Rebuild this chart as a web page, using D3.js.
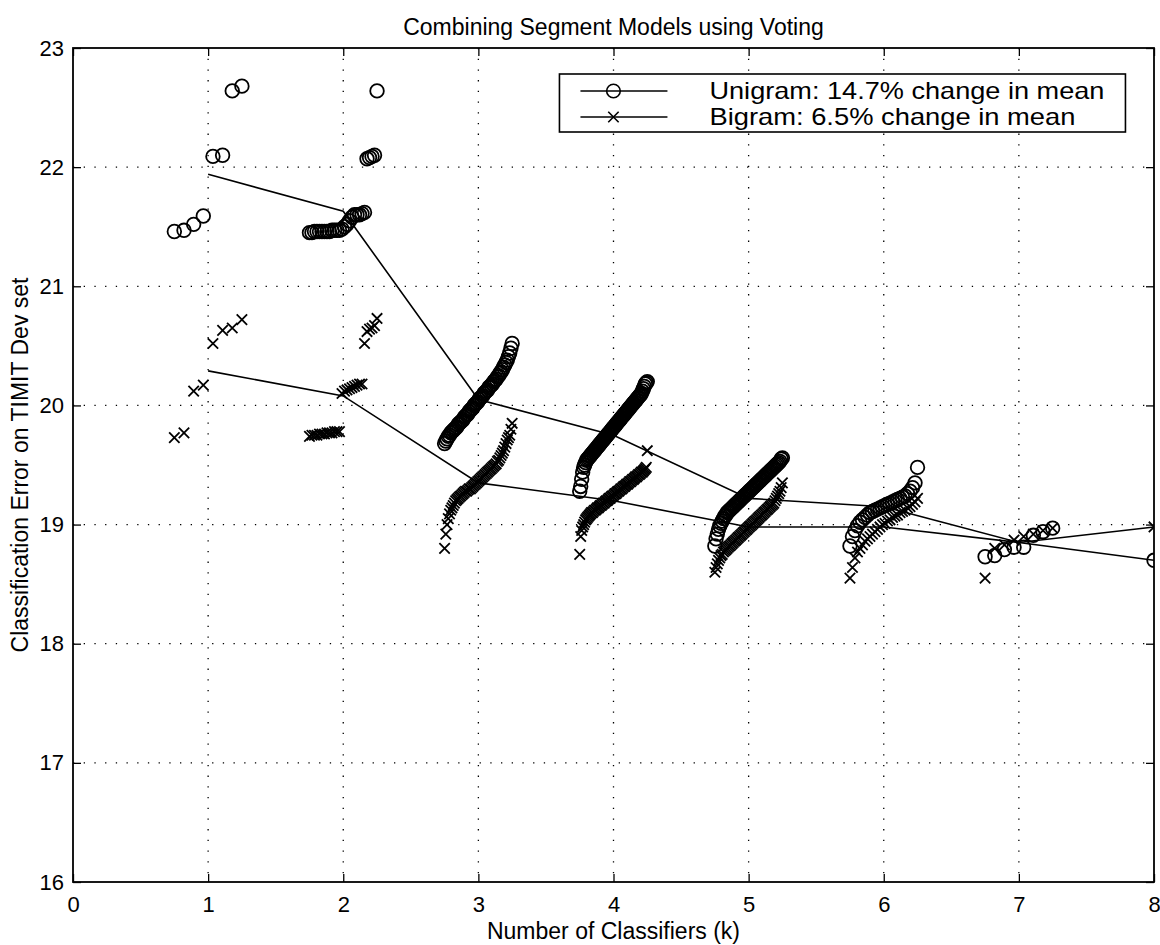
<!DOCTYPE html>
<html>
<head>
<meta charset="utf-8">
<script src="https://cdn.jsdelivr.net/npm/d3@7"></script>
<style>
  body { margin: 0; background: #fff; }
  svg { display: block; font-family: "Liberation Sans", Arial, sans-serif; }
</style>
</head>
<body>
<script>
// number of classifiers combined
const kValues = [1, 2, 3, 4, 5, 6, 7, 8];
const xTicks = [0, 1, 2, 3, 4, 5, 6, 7, 8];
const yTicks = [16, 17, 18, 19, 20, 21, 22, 23];

// mean error per k (the two lines)
const unigramMean = [21.94, 21.63, 20.05, 19.75, 19.22, 19.15, 18.85, 18.70];
const bigramMean  = [20.29, 20.08, 19.35, 19.20, 18.98, 18.98, 18.85, 18.98];

// every combination, sorted, per k -- unigram (circles)
const uniK1 = [21.46, 21.47, 21.52, 21.59, 22.09, 22.10, 22.64, 22.68];
const uniK2 = [21.45, 21.45, 21.46, 21.46, 21.46, 21.46, 21.46, 21.46, 21.46, 21.47, 21.47, 21.47, 21.47, 21.48,
  21.50, 21.52, 21.55, 21.58, 21.60, 21.60, 21.60, 21.61, 21.62, 22.07, 22.08, 22.09, 22.10, 22.64];
const uniK3 = [19.68, 19.70, 19.72, 19.74, 19.75, 19.77, 19.78, 19.79, 19.80, 19.81,
  19.82, 19.84, 19.85, 19.86, 19.87, 19.88, 19.90, 19.91, 19.92, 19.93,
  19.95, 19.96, 19.97, 19.98, 20.00, 20.01, 20.02, 20.03, 20.05, 20.06,
  20.07, 20.08, 20.10, 20.11, 20.12, 20.13, 20.15, 20.16, 20.17, 20.18,
  20.20, 20.21, 20.22, 20.24, 20.25, 20.27, 20.28, 20.30, 20.32, 20.34,
  20.36, 20.38, 20.41, 20.44, 20.48, 20.52];
const uniK4 = [19.28, 19.32, 19.38, 19.44, 19.48, 19.50, 19.52, 19.54, 19.55, 19.56,
  19.57, 19.58, 19.59, 19.60, 19.61, 19.62, 19.63, 19.64, 19.65, 19.66,
  19.67, 19.68, 19.69, 19.70, 19.71, 19.72, 19.73, 19.74, 19.75, 19.76,
  19.77, 19.78, 19.79, 19.80, 19.81, 19.82, 19.83, 19.84, 19.85, 19.86,
  19.87, 19.88, 19.89, 19.90, 19.91, 19.92, 19.93, 19.94, 19.95, 19.96,
  19.97, 19.98, 19.99, 20.00, 20.01, 20.02, 20.03, 20.04, 20.05, 20.06,
  20.07, 20.08, 20.09, 20.10, 20.12, 20.14, 20.16, 20.18, 20.19, 20.20];
const uniK5 = [18.82, 18.88, 18.92, 18.96, 18.99, 19.01, 19.03, 19.05, 19.07, 19.08,
  19.10, 19.11, 19.12, 19.13, 19.14, 19.15, 19.16, 19.17, 19.18, 19.19,
  19.20, 19.21, 19.22, 19.23, 19.24, 19.25, 19.26, 19.27, 19.28, 19.29,
  19.30, 19.31, 19.32, 19.33, 19.34, 19.35, 19.36, 19.37, 19.38, 19.39,
  19.40, 19.41, 19.42, 19.43, 19.44, 19.45, 19.46, 19.47, 19.48, 19.49,
  19.50, 19.51, 19.52, 19.53, 19.55, 19.56];
const uniK6 = [18.82, 18.90, 18.95, 18.99, 19.02, 19.04, 19.06, 19.08, 19.10, 19.11,
  19.12, 19.13, 19.14, 19.15, 19.16, 19.17, 19.18, 19.19, 19.20, 19.21,
  19.22, 19.23, 19.24, 19.26, 19.28, 19.31, 19.35, 19.48];
const uniK7 = [18.73, 18.74, 18.79, 18.81, 18.81, 18.91, 18.94, 18.97];
const uniK8 = [18.70];

// bigram (crosses)
const biK1 = [19.73, 19.77, 20.12, 20.17, 20.52, 20.63, 20.65, 20.72];
const biK2 = [19.74, 19.75, 19.75, 19.75, 19.76, 19.76, 19.76, 19.77, 19.77, 19.77, 19.78, 19.78, 19.78,
  20.10, 20.12, 20.13, 20.14, 20.15, 20.16, 20.17, 20.18, 20.18,
  20.52, 20.62, 20.64, 20.65, 20.67, 20.73];
const biK3 = [18.80, 18.92, 19.00, 19.05, 19.09, 19.12, 19.14, 19.16, 19.18, 19.20,
  19.21, 19.22, 19.23, 19.24, 19.25, 19.26, 19.27, 19.28, 19.28, 19.29,
  19.30, 19.30, 19.31, 19.32, 19.33, 19.34, 19.35, 19.36, 19.37, 19.38,
  19.39, 19.40, 19.41, 19.42, 19.43, 19.44, 19.45, 19.46, 19.47, 19.48,
  19.49, 19.50, 19.51, 19.53, 19.54, 19.56, 19.58, 19.60, 19.62, 19.65,
  19.68, 19.71, 19.73, 19.75, 19.80, 19.85];
const biK4 = [18.75, 18.90, 18.95, 18.98, 19.00, 19.02, 19.04, 19.05, 19.06, 19.07,
  19.08, 19.09, 19.10, 19.10, 19.11, 19.12, 19.12, 19.13, 19.14, 19.14,
  19.15, 19.16, 19.16, 19.17, 19.18, 19.18, 19.19, 19.20, 19.20, 19.21,
  19.22, 19.22, 19.23, 19.24, 19.24, 19.25, 19.26, 19.26, 19.27, 19.28,
  19.28, 19.29, 19.30, 19.30, 19.31, 19.32, 19.32, 19.33, 19.34, 19.34,
  19.35, 19.36, 19.36, 19.37, 19.38, 19.38, 19.39, 19.40, 19.40, 19.41,
  19.42, 19.42, 19.43, 19.44, 19.44, 19.45, 19.46, 19.47, 19.48, 19.62];
const biK5 = [18.60, 18.64, 18.67, 18.70, 18.72, 18.74, 18.75, 18.77, 18.78, 18.79,
  18.80, 18.81, 18.82, 18.83, 18.84, 18.85, 18.86, 18.87, 18.88, 18.89,
  18.90, 18.91, 18.92, 18.93, 18.94, 18.95, 18.96, 18.97, 18.98, 18.99,
  19.00, 19.01, 19.02, 19.03, 19.04, 19.05, 19.06, 19.07, 19.08, 19.09,
  19.10, 19.11, 19.12, 19.13, 19.14, 19.15, 19.16, 19.17, 19.18, 19.20,
  19.22, 19.24, 19.26, 19.28, 19.31, 19.35];
const biK6 = [18.55, 18.64, 18.72, 18.77, 18.80, 18.83, 18.86, 18.88, 18.90, 18.92,
  18.94, 18.96, 18.98, 19.00, 19.01, 19.03, 19.04, 19.06, 19.07, 19.08,
  19.10, 19.11, 19.12, 19.14, 19.15, 19.17, 19.19, 19.22];
const biK7 = [18.55, 18.80, 18.83, 18.87, 18.90, 18.92, 18.95, 18.97];
const biK8 = [18.98];

const unigramGroups = [uniK1, uniK2, uniK3, uniK4, uniK5, uniK6, uniK7, uniK8];
const bigramGroups  = [biK1, biK2, biK3, biK4, biK5, biK6, biK7, biK8];

const legendLabels = ["Unigram: 14.7% change in mean", "Bigram: 6.5% change in mean"];

// window stuff
const width = 1160, height = 945;
const margin = {top: 48, bottom: 63, left: 73, right: 6};
const visWidth = width - margin.left - margin.right;
const visHeight = height - margin.top - margin.bottom;
const myfont = {tick: 22, title: 23, label: 23, legend: 24};

const xScale = d3.scaleLinear().domain([0, 8]).range([0, visWidth]);
const yScale = d3.scaleLinear().domain([16, 23]).range([visHeight, 0]);

// spread every group over k-0.25 .. k+0.25
function toPoints(groups) {
  return groups.flatMap((vals, gi) => {
    const k = kValues[gi];
    const spread = d3.scaleLinear().domain([0, Math.max(vals.length - 1, 1)])
      .range(vals.length > 1 ? [k - 0.25, k + 0.25] : [k, k]);
    return vals.map((v, i) => ({x: spread(i), y: v}));
  });
}
const uniPoints = toPoints(unigramGroups);
const biPoints = toPoints(bigramGroups);

const svg = d3.select("body").append("svg")
  .attr("width", width)
  .attr("height", height);

svg.append("rect").attr("width", width).attr("height", height).attr("fill", "#fff");

const g = svg.append("g")
  .attr("transform", `translate(${margin.left}, ${margin.top})`);

g.append("clipPath").attr("id", "plotclip")
  .append("rect").attr("width", visWidth).attr("height", visHeight);

// dotted grid
g.append("g").selectAll("line").data(xTicks.slice(1, -1)).join("line")
  .attr("x1", d => xScale(d)).attr("x2", d => xScale(d))
  .attr("y1", 0).attr("y2", visHeight)
  .attr("stroke", "#000").attr("stroke-width", 1.3)
  .attr("stroke-dasharray", "1.3,9.4");
g.append("g").selectAll("line").data(yTicks.slice(1, -1)).join("line")
  .attr("y1", d => yScale(d)).attr("y2", d => yScale(d))
  .attr("x1", 0).attr("x2", visWidth)
  .attr("stroke", "#000").attr("stroke-width", 1.3)
  .attr("stroke-dasharray", "1.3,9.4");

// axes, ticks pointing inward
const xAxis = d3.axisBottom(xScale).tickValues(xTicks).tickSize(-8).tickPadding(14).tickFormat(d3.format("d"));
const yAxis = d3.axisLeft(yScale).tickValues(yTicks).tickSize(-8).tickPadding(9).tickFormat(d3.format("d"));

g.append("g").attr("transform", `translate(0, ${visHeight})`).call(xAxis)
  .call(a => a.select(".domain").remove())
  .call(a => a.selectAll("text").attr("font-size", myfont.tick).attr("font-family", "Liberation Sans, Arial").attr("fill", "#000"));
g.append("g").call(yAxis)
  .call(a => a.select(".domain").remove())
  .call(a => a.selectAll("text").attr("font-size", myfont.tick).attr("font-family", "Liberation Sans, Arial").attr("fill", "#000"));
g.append("g").call(d3.axisTop(xScale).tickValues(xTicks).tickSize(-8).tickFormat(""))
  .call(a => a.select(".domain").remove());
g.append("g").attr("transform", `translate(${visWidth}, 0)`)
  .call(d3.axisRight(yScale).tickValues(yTicks).tickSize(-8).tickFormat(""))
  .call(a => a.select(".domain").remove());
g.selectAll(".tick line").attr("stroke", "#000").attr("stroke-width", 1.3);

// frame
g.append("rect").attr("width", visWidth).attr("height", visHeight)
  .attr("fill", "none").attr("stroke", "#000").attr("stroke-width", 1.8);

const plot = g.append("g").attr("clip-path", "url(#plotclip)");

// mean lines
const line = d3.line().x((d, i) => xScale(kValues[i])).y(d => yScale(d));
plot.append("path").datum(unigramMean).attr("d", line)
  .attr("fill", "none").attr("stroke", "#000").attr("stroke-width", 1.6);
plot.append("path").datum(bigramMean).attr("d", line)
  .attr("fill", "none").attr("stroke", "#000").attr("stroke-width", 1.6);

// markers
const xMark = s => `M${-s},${-s}L${s},${s}M${-s},${s}L${s},${-s}`;
plot.append("g").selectAll("circle").data(uniPoints).join("circle")
  .attr("cx", d => xScale(d.x)).attr("cy", d => yScale(d.y)).attr("r", 6.8)
  .attr("fill", "none").attr("stroke", "#000").attr("stroke-width", 1.8);
plot.append("g").selectAll("path").data(biPoints).join("path")
  .attr("transform", d => `translate(${xScale(d.x)},${yScale(d.y)})`)
  .attr("d", xMark(5.2)).attr("fill", "none").attr("stroke", "#000").attr("stroke-width", 1.8);

// legend
const legendWidths = [395, 366];
const legend = g.append("g").attr("transform", `translate(${xScale(3.6)}, 26)`);
legend.append("rect").attr("width", 566).attr("height", 58)
  .attr("fill", "#fff").attr("stroke", "#000").attr("stroke-width", 1.6);
legendLabels.forEach((lab, i) => {
  const ly = 17 + i * 26;
  legend.append("line").attr("x1", 21).attr("x2", 108).attr("y1", ly).attr("y2", ly)
    .attr("stroke", "#000").attr("stroke-width", 1.6);
  if (i === 0) {
    legend.append("circle").attr("cx", 54).attr("cy", ly).attr("r", 6.8)
      .attr("fill", "none").attr("stroke", "#000").attr("stroke-width", 1.6);
  } else {
    legend.append("path").attr("transform", `translate(54,${ly})`).attr("d", xMark(5.2))
      .attr("fill", "none").attr("stroke", "#000").attr("stroke-width", 1.6);
  }
  legend.append("text").attr("x", 150).attr("y", ly + 8)
    .attr("font-size", myfont.legend)
    .attr("textLength", legendWidths[i]).attr("lengthAdjust", "spacingAndGlyphs")
    .text(lab);
});

// title and axis labels
svg.append("text").attr("x", margin.left + visWidth / 2).attr("y", 35)
  .attr("text-anchor", "middle").attr("font-size", myfont.title)
  .text("Combining Segment Models using Voting");
svg.append("text").attr("x", margin.left + visWidth / 2).attr("y", 939)
  .attr("text-anchor", "middle").attr("font-size", myfont.label)
  .text("Number of Classifiers (k)");
svg.append("text").attr("transform", `translate(28, ${margin.top + visHeight / 2}) rotate(-90)`)
  .attr("text-anchor", "middle").attr("font-size", myfont.label)
  .text("Classification Error on TIMIT Dev set");
</script>
</body>
</html>
